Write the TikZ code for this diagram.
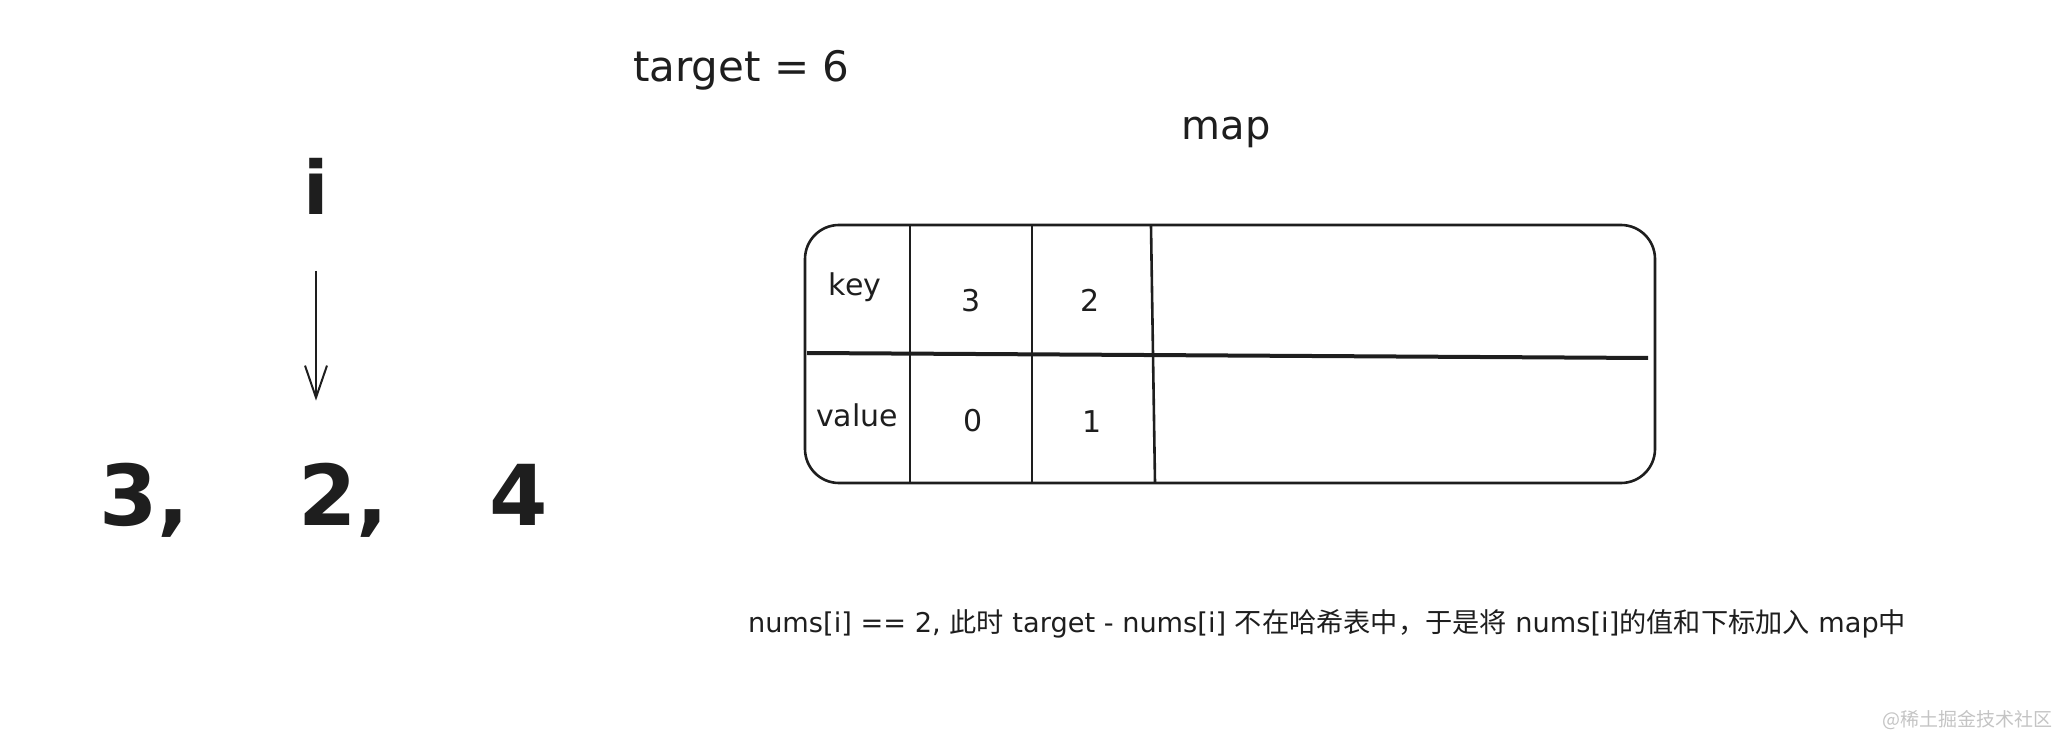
\documentclass[tikz,border=0pt]{standalone}
\usepackage{fontspec}
\setmainfont{DejaVu Sans}
\newfontfamily\cjk{Noto Sans CJK SC}
\usetikzlibrary{arrows.meta}
\definecolor{ink}{HTML}{1E1E1E}
\definecolor{wm}{HTML}{C4C4C4}
\begin{document}
\begin{tikzpicture}[x=0.5pt,y=-0.5pt,
  txt/.style={inner sep=0pt, outer sep=0pt, text=ink},
  big/.style={txt, font=\fontsize{42}{48}\selectfont\bfseries},
  mid/.style={txt, font=\fontsize{21}{25}\selectfont},
  cell/.style={txt, font=\fontsize{15}{18}\selectfont},
  note/.style={txt, font=\fontsize{13.6}{16}\selectfont},
  line/.style={draw=ink, line width=1.3pt},
  thin/.style={draw=ink, line width=1pt},
  arr/.style={thin, -{Straight Barb[length=16pt,width=11pt,line width=1pt]}}]
\useasboundingbox (0,0) rectangle (2062,737);

% title texts
\node[mid, anchor=base west] (target) at (633,82) {target = 6};
\node[txt, font=\fontsize{20}{24}\selectfont, anchor=base] (maplbl) at (1226,140) {map};

% pointer
\node[txt, font=\fontsize{37}{42}\selectfont\bfseries, anchor=base] (i) at (316,215) {i};

% array
\node[big, anchor=base west] (n3) at (99,525) {3,};
\node[big, anchor=base west] (n2) at (298,525) {2,};
\node[big, anchor=base west] (n4) at (489,525) {4};

\draw[arr, shorten <=28pt, shorten >=31pt] (i.south) -- (i.south |- n2.north);

% map table
\node[line, rounded corners=17pt, minimum width=425pt, minimum height=129pt, inner sep=0pt] (tbl) at (1230,354) {};
\draw[line] (910,226) -- (910,482);
\draw[line] (1032,226) -- (1032,482);
\draw[line] (1151,226) -- (1155,483);
\draw[draw=ink, line width=2pt] (807,353) -- (1648,358);

\node[cell, anchor=base] (key) at (855,296) {key};
\node[cell, anchor=base] (k3) at (971,312) {3};
\node[cell, anchor=base] (k2) at (1090,312) {2};
\node[cell, anchor=base] (val) at (857,427) {value};
\node[cell, anchor=base] (v0) at (973,432) {0};
\node[cell, anchor=base] (v1) at (1092,433) {1};

% explanation
\node[note, anchor=base west] (expl) at (748,632) {nums[i] == 2, {\cjk 此时} target - nums[i] {\cjk 不在哈希表中，于是将} nums[i]{\cjk 的值和下标加入} map{\cjk 中}};

% watermark
\node[txt, text=wm, font=\cjk\fontsize{9.5}{11}\selectfont, anchor=base east] (wmark) at (2052,726) {@稀土掘金技术社区};
\end{tikzpicture}
\end{document}
